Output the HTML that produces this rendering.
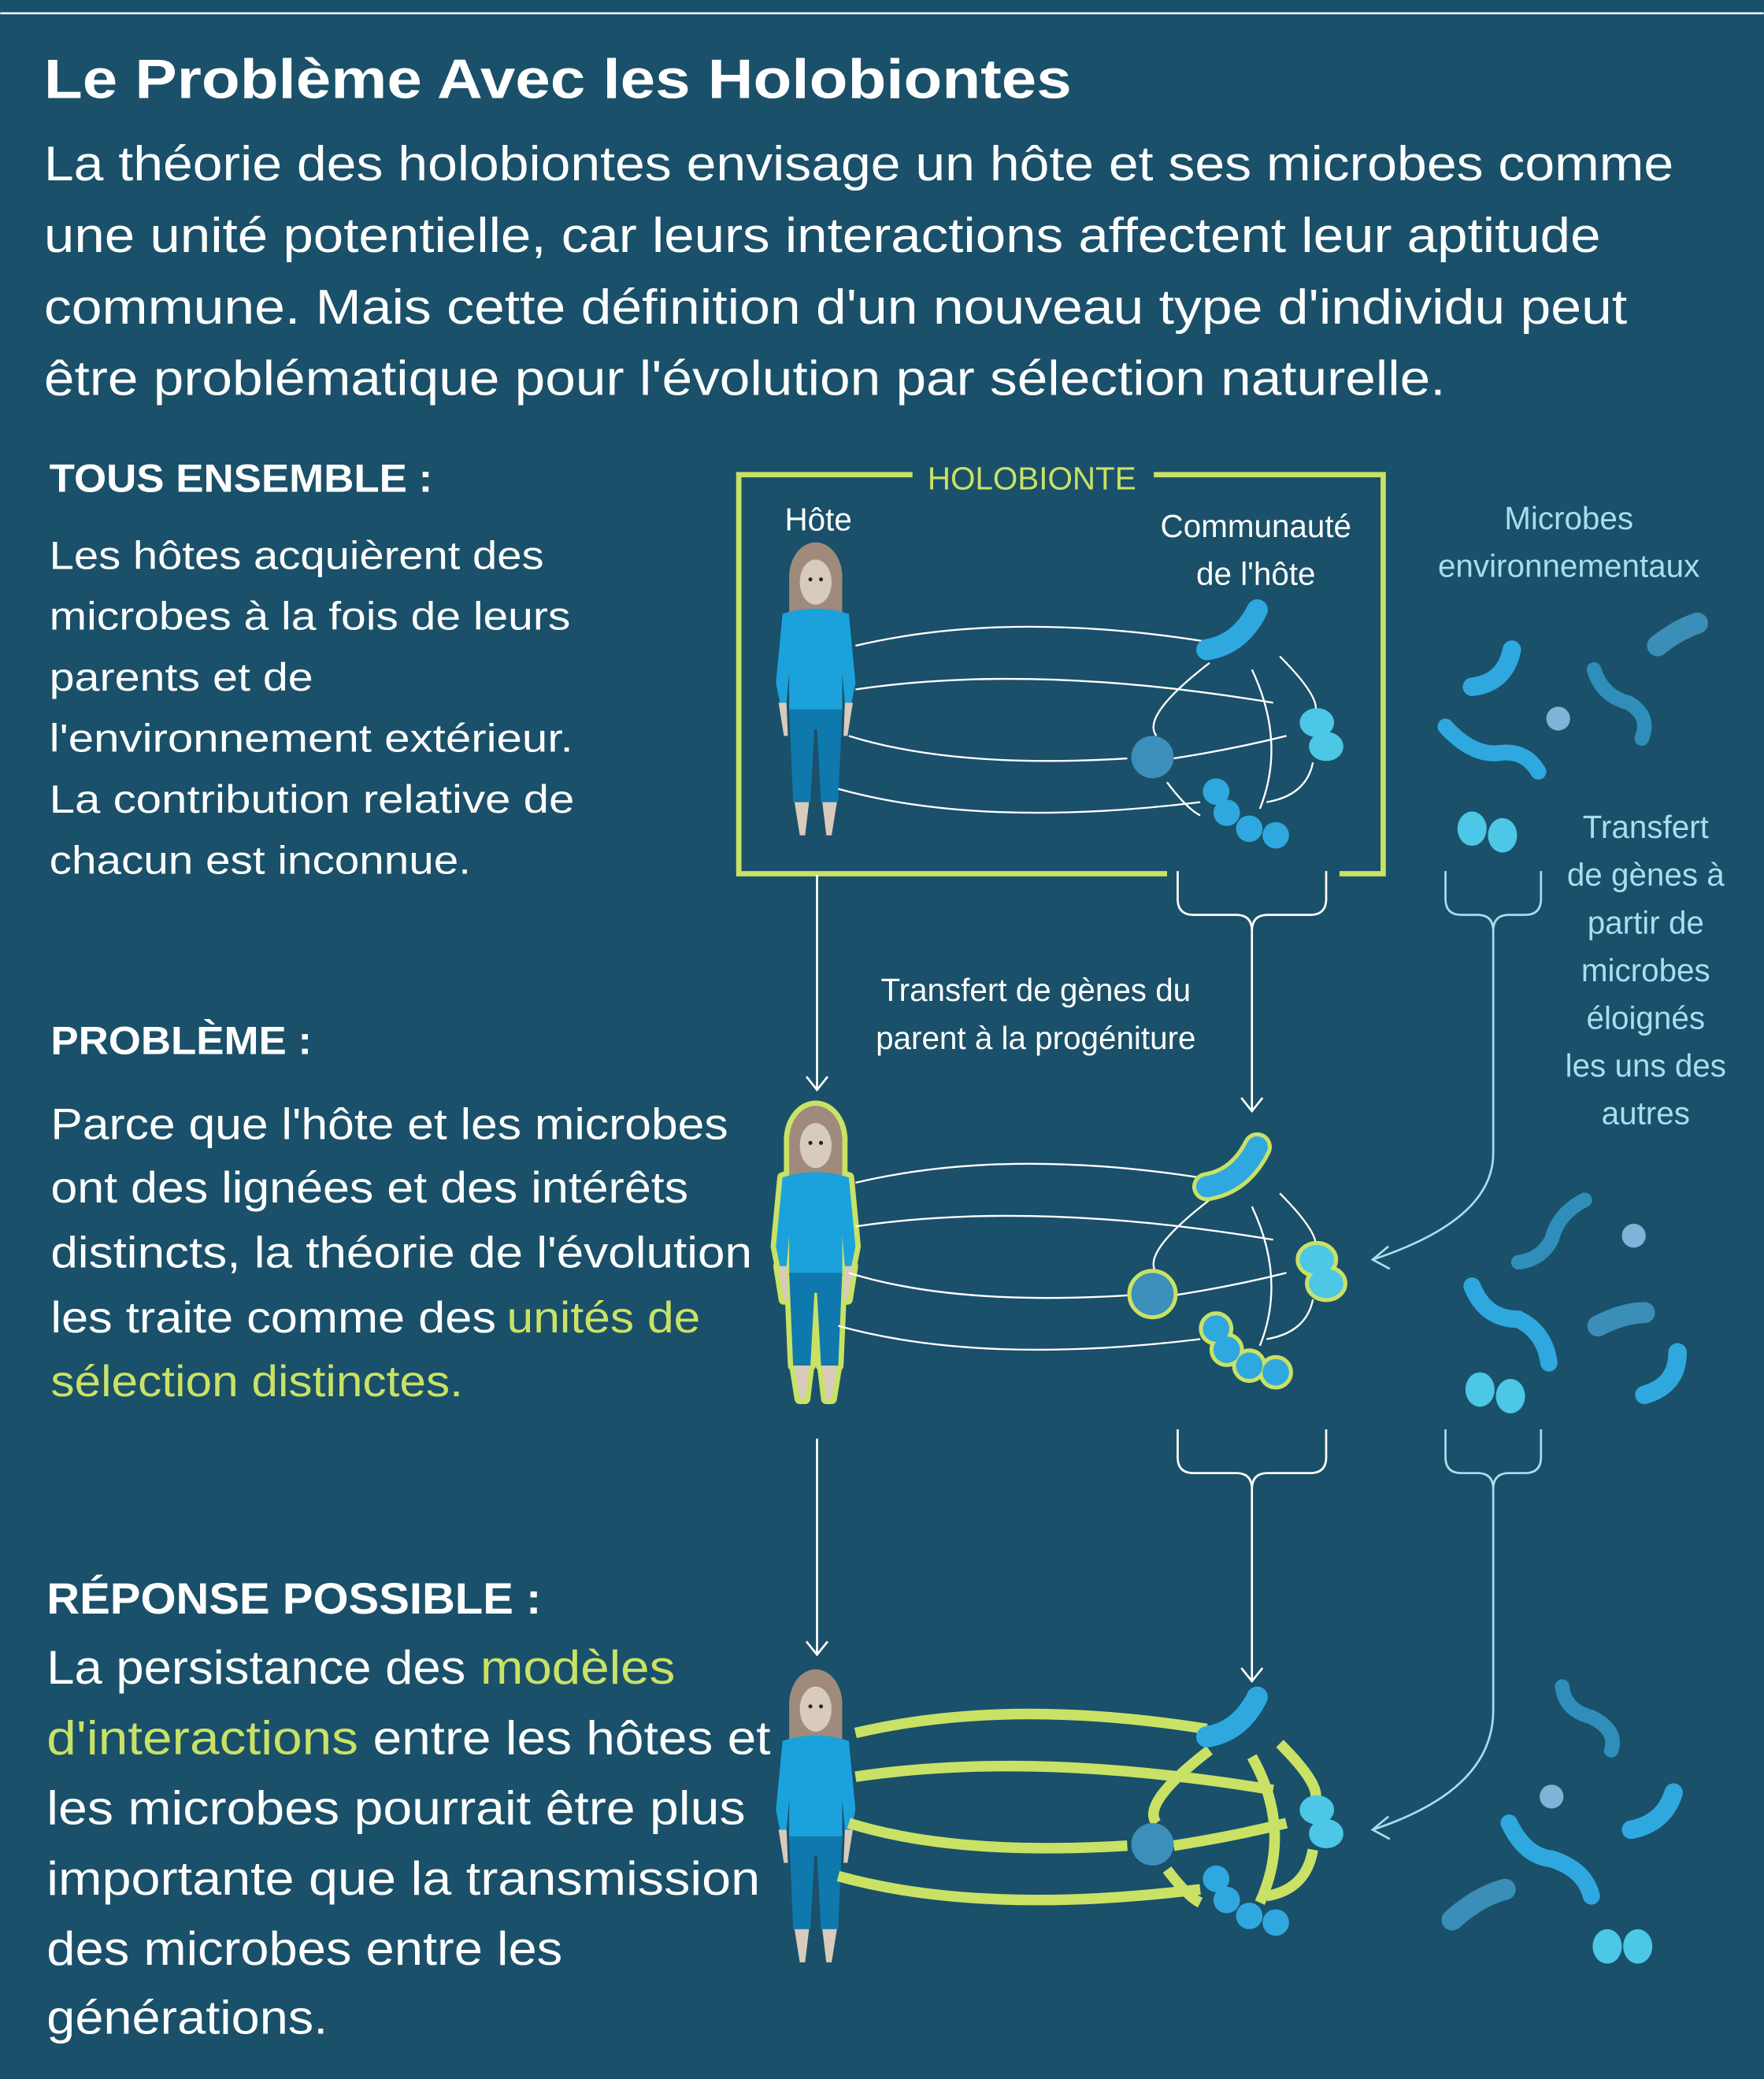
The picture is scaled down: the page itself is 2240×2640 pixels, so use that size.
<!DOCTYPE html>
<html><head><meta charset="utf-8"><style>
html,body{margin:0;padding:0;background:#1a5069;}
svg{display:block}
text{font-family:"Liberation Sans",sans-serif;}
</style></head><body>
<svg width="2240" height="2640" viewBox="0 0 1330 1568" xmlns="http://www.w3.org/2000/svg">
<defs>
<g id="person">
  <ellipse cx="0" cy="20" rx="20" ry="26" fill="#a08a7c"/>
  <rect x="-20" y="18" width="40" height="30" fill="#a08a7c"/>
  <ellipse cx="0" cy="24" rx="12" ry="17" fill="#d8cbbd"/>
  <circle cx="-4" cy="22" r="1.5" fill="#222"/><circle cx="4" cy="22" r="1.5" fill="#222"/>
  <path d="M-25,48 Q0,40 25,48 L30,100 L27,115 L22,115 L20,92 L20,122 L-20,122 L-20,92 L-22,115 L-27,115 L-30,100 Z" fill="#1ba2dc"/>
  <path d="M-28,115 L-24,140 L-21,140 L-22,115 Z M28,115 L24,140 L21,140 L22,115 Z" fill="#d8cbbd"/>
  <path d="M-20,120 L20,120 L17,190 L4,190 L1,135 L-1,135 L-4,190 L-17,190 Z" fill="#0f78ad"/>
  <path d="M-16,190 L-5,190 L-8,215 L-12,215 Z M5,190 L16,190 L12,215 L8,215 Z" fill="#d8cbbd"/>
</g>
<g id="crescent">
  <path d="M-20,12 Q5,8 18,-18" stroke="#2fa8df" stroke-width="16" stroke-linecap="round" fill="none"/>
</g>
<g id="comm">
  <use href="#crescent" x="930" y="478"/>
  <circle cx="869" cy="571" r="16" fill="#3d8fbb"/>
  <ellipse cx="993" cy="545" rx="13" ry="11" fill="#4cc7e6"/>
  <ellipse cx="1000" cy="563" rx="13" ry="11" fill="#4cc7e6"/>
  <circle cx="917" cy="597" r="10" fill="#2fa8df"/><circle cx="925" cy="613" r="10" fill="#2fa8df"/>
  <circle cx="942" cy="625" r="10" fill="#2fa8df"/><circle cx="962" cy="630" r="10" fill="#2fa8df"/>
</g>
</defs>
<rect width="1330" height="1568" fill="#1a5069"/>
<line x1="0" y1="10" x2="1330" y2="10" stroke="#fff" stroke-width="1.5"/>
<text x="33" y="74" font-size="42" font-weight="bold" fill="#fff" textLength="775" lengthAdjust="spacingAndGlyphs">Le Problème Avec les Holobiontes</text>
<g font-size="37" fill="#fff">
<text x="33" y="136" textLength="1229" lengthAdjust="spacingAndGlyphs">La théorie des holobiontes envisage un hôte et ses microbes comme</text>
<text x="33" y="190" textLength="1174" lengthAdjust="spacingAndGlyphs">une unité potentielle, car leurs interactions affectent leur aptitude</text>
<text x="33" y="244" textLength="1194" lengthAdjust="spacingAndGlyphs">commune. Mais cette définition d'un nouveau type d'individu peut</text>
<text x="33" y="298" textLength="1057" lengthAdjust="spacingAndGlyphs">être problématique pour l'évolution par sélection naturelle.</text>
</g>
<text x="37" y="371" font-size="30" font-weight="bold" fill="#fff" textLength="289" lengthAdjust="spacingAndGlyphs">TOUS ENSEMBLE :</text>
<g font-size="30" fill="#fff">
<text x="37" y="429" textLength="373" lengthAdjust="spacingAndGlyphs">Les hôtes acquièrent des</text>
<text x="37" y="475" textLength="393" lengthAdjust="spacingAndGlyphs">microbes à la fois de leurs</text>
<text x="37" y="521" textLength="199" lengthAdjust="spacingAndGlyphs">parents et de</text>
<text x="37" y="567" textLength="395" lengthAdjust="spacingAndGlyphs">l'environnement extérieur.</text>
<text x="37" y="613" textLength="396" lengthAdjust="spacingAndGlyphs">La contribution relative de</text>
<text x="37" y="659" textLength="318" lengthAdjust="spacingAndGlyphs">chacun est inconnue.</text>
</g>
<text x="38" y="795" font-size="30" font-weight="bold" fill="#fff" textLength="197" lengthAdjust="spacingAndGlyphs">PROBLÈME :</text>
<g font-size="33" fill="#fff">
<text x="38" y="859" textLength="511" lengthAdjust="spacingAndGlyphs">Parce que l'hôte et les microbes</text>
<text x="38" y="907" textLength="481" lengthAdjust="spacingAndGlyphs">ont des lignées et des intérêts</text>
<text x="38" y="956" textLength="529" lengthAdjust="spacingAndGlyphs">distincts, la théorie de l'évolution</text>
<text x="38" y="1005" textLength="336" lengthAdjust="spacingAndGlyphs">les traite comme des</text>
<text x="382" y="1005" fill="#c9e265" textLength="146" lengthAdjust="spacingAndGlyphs">unités de</text>
<text x="38" y="1053" fill="#c9e265" textLength="311" lengthAdjust="spacingAndGlyphs">sélection distinctes.</text>
</g>
<text x="35" y="1217" font-size="33" font-weight="bold" fill="#fff" textLength="373" lengthAdjust="spacingAndGlyphs">RÉPONSE POSSIBLE :</text>
<g font-size="36" fill="#fff">
<text x="35" y="1270" textLength="316" lengthAdjust="spacingAndGlyphs">La persistance des</text>
<text x="362" y="1270" fill="#c9e265" textLength="147" lengthAdjust="spacingAndGlyphs">modèles</text>
<text x="35" y="1323" fill="#c9e265" textLength="235" lengthAdjust="spacingAndGlyphs">d'interactions</text>
<text x="281" y="1323" textLength="300" lengthAdjust="spacingAndGlyphs">entre les hôtes et</text>
<text x="35" y="1376" textLength="527" lengthAdjust="spacingAndGlyphs">les microbes pourrait être plus</text>
<text x="35" y="1429" textLength="538" lengthAdjust="spacingAndGlyphs">importante que la transmission</text>
<text x="35" y="1482" textLength="389" lengthAdjust="spacingAndGlyphs">des microbes entre les</text>
<text x="35" y="1534" textLength="212" lengthAdjust="spacingAndGlyphs">générations.</text>
</g>

<!-- holobionte box -->
<path d="M688,358 H557 V659 H880 M1010,659 H1043 V358 H870" stroke="#c9e265" stroke-width="4" fill="none"/>
<text x="778" y="369" font-size="24" fill="#c9e265" text-anchor="middle">HOLOBIONTE</text>
<g font-size="24" fill="#fff" text-anchor="middle">
<text x="617" y="400">Hôte</text>
<text x="947" y="405">Communauté</text>
<text x="947" y="441">de l'hôte</text>
<text x="781" y="755">Transfert de gènes du</text>
<text x="781" y="791">parent à la progéniture</text>
</g>
<g font-size="24" fill="#a8def0" text-anchor="middle">
<text x="1183" y="399">Microbes</text>
<text x="1183" y="435">environnementaux</text>
<text x="1241" y="632">Transfert</text>
<text x="1241" y="668">de gènes à</text>
<text x="1241" y="704">partir de</text>
<text x="1241" y="740">microbes</text>
<text x="1241" y="776">éloignés</text>
<text x="1241" y="812">les uns des</text>
<text x="1241" y="848">autres</text>
</g>

<!-- row 1 -->
<use href="#person" x="615" y="415"/>
<g stroke="#fff" stroke-width="1.4" fill="none">
<path d="M645,487 Q760,460 910,484"/>
<path d="M645,520 Q780,500 960,530"/>
<path d="M640,555 Q720,580 850,572"/>
<path d="M632,595 Q740,625 905,605"/>
<path d="M885,572 Q930,565 970,555"/>
<path d="M912,500 Q860,540 872,555"/>
<path d="M944,505 Q970,560 950,610"/>
<path d="M965,495 Q1000,530 990,540"/>
<path d="M990,575 Q985,600 955,605"/>
<path d="M880,590 Q895,610 905,615"/>
</g>
<use href="#comm"/>

<!-- row 1 connectors -->
<g stroke="#fff" stroke-width="1.6" fill="none">
<path d="M616,660 V822 M608,812 L616,822 L624,812"/>
<path d="M888,657 V678 Q888,690 900,690 H932 Q944,690 944,702 V838 M1000,657 V678 Q1000,690 988,690 H956 Q944,690 944,702 M936,828 L944,838 L952,828"/>
<path d="M616,1085 V1248 M608,1238 L616,1248 L624,1238"/>
<path d="M888,1078 V1099 Q888,1111 900,1111 H932 Q944,1111 944,1123 V1268 M1000,1078 V1099 Q1000,1111 988,1111 H956 Q944,1111 944,1123 M936,1258 L944,1268 L952,1258"/>
</g>
<g stroke="#a8def0" stroke-width="1.6" fill="none">
<path d="M1090,657 V678 Q1090,690 1102,690 H1114 Q1126,690 1126,702 V870 Q1126,920 1035,950 M1162,657 V678 Q1162,690 1150,690 H1138 Q1126,690 1126,702 M1047,940 L1035,950 L1048,957"/>
<path d="M1090,1078 V1099 Q1090,1111 1102,1111 H1114 Q1126,1111 1126,1123 V1290 Q1126,1350 1035,1380 M1162,1078 V1099 Q1162,1111 1150,1111 H1138 Q1126,1111 1126,1123 M1047,1370 L1035,1380 L1048,1387"/>
</g>

<!-- env microbes row1 -->
<g fill="none" stroke-linecap="round">
<path d="M1140,490 Q1135,515 1110,518" stroke="#2fa8df" stroke-width="14"/>
<path d="M1090,548 Q1110,570 1130,568 Q1150,565 1160,582" stroke="#2fa8df" stroke-width="12"/>
<path d="M1202,505 Q1208,525 1228,530 Q1245,540 1238,557" stroke="#2f8fba" stroke-width="11"/>
<path d="M1250,487 Q1265,475 1280,470" stroke="#3a8eb8" stroke-width="16"/>
</g>
<circle cx="1175" cy="542" r="9" fill="#7fb3d8"/>
<ellipse cx="1110" cy="625" rx="11" ry="13" fill="#4cc7e6"/><ellipse cx="1133" cy="630" rx="11" ry="13" fill="#4cc7e6"/>

<!-- row 2 -->
<g transform="translate(615,840)">
<use href="#person" stroke="#c9e265" stroke-width="8" stroke-linejoin="round"/>
<use href="#person"/>
</g>
<g stroke="#fff" stroke-width="1.4" fill="none" transform="translate(0,405)">
<path d="M645,487 Q760,460 910,484"/>
<path d="M645,520 Q780,500 960,530"/>
<path d="M640,555 Q720,580 850,572"/>
<path d="M632,595 Q740,625 905,605"/>
<path d="M885,572 Q930,565 970,555"/>
<path d="M912,500 Q860,540 872,555"/>
<path d="M944,505 Q970,560 950,610"/>
<path d="M965,495 Q1000,530 990,540"/>
<path d="M990,575 Q985,600 955,605"/>
</g>
<g transform="translate(0,405)">
<use href="#comm" stroke="#c9e265" stroke-width="6"/>
<use href="#crescent" x="930" y="478" stroke="none"/>
<path d="M910,490 Q935,486 948,460" stroke="#c9e265" stroke-width="22" stroke-linecap="round" fill="none"/>
<path d="M910,490 Q935,486 948,460" stroke="#2fa8df" stroke-width="14" stroke-linecap="round" fill="none"/>
<use href="#comm"/>
</g>
<!-- env row2 -->
<g fill="none" stroke-linecap="round">
<path d="M1195,905 Q1175,915 1170,935 Q1162,950 1145,952" stroke="#2f8fba" stroke-width="11"/>
<path d="M1110,970 Q1120,995 1145,995 Q1165,1005 1168,1028" stroke="#2fa8df" stroke-width="13"/>
<path d="M1205,1000 Q1225,990 1240,990" stroke="#3a8eb8" stroke-width="16"/>
<path d="M1265,1020 Q1265,1045 1240,1052" stroke="#2fa8df" stroke-width="14"/>
</g>
<circle cx="1232" cy="932" r="9" fill="#7fb3d8"/>
<ellipse cx="1116" cy="1048" rx="11" ry="13" fill="#4cc7e6"/><ellipse cx="1139" cy="1053" rx="11" ry="13" fill="#4cc7e6"/>

<!-- row 3 -->
<use href="#person" x="615" y="1265"/>
<g fill="none" stroke="#c9e265" stroke-width="8" transform="translate(0,820)">
<path d="M645,487 Q760,460 910,484"/>
<path d="M645,520 Q780,500 960,530"/>
<path d="M640,555 Q720,580 850,572"/>
<path d="M632,595 Q740,625 905,605"/>
<path d="M885,572 Q930,565 970,555"/>
<path d="M912,500 Q860,540 872,555"/>
<path d="M944,505 Q975,560 950,615"/>
<path d="M965,495 Q1000,530 990,540"/>
<path d="M990,575 Q985,605 955,610"/>
<path d="M880,590 Q895,610 905,615"/>
</g>
<use href="#comm" transform="translate(0,820)"/>
<!-- env row3 -->
<g fill="none" stroke-linecap="round">
<path d="M1178,1272 Q1180,1290 1200,1295 Q1220,1305 1215,1320" stroke="#2f8fba" stroke-width="11"/>
<path d="M1138,1375 Q1150,1400 1170,1402 Q1195,1410 1200,1430" stroke="#2fa8df" stroke-width="13"/>
<path d="M1262,1352 Q1255,1375 1230,1380" stroke="#2fa8df" stroke-width="14"/>
<path d="M1095,1448 Q1115,1430 1135,1425" stroke="#3a8eb8" stroke-width="16"/>
</g>
<circle cx="1170" cy="1355" r="9" fill="#7fb3d8"/>
<ellipse cx="1212" cy="1468" rx="11" ry="13" fill="#4cc7e6"/><ellipse cx="1235" cy="1468" rx="11" ry="13" fill="#4cc7e6"/>
</svg>
</body></html>
